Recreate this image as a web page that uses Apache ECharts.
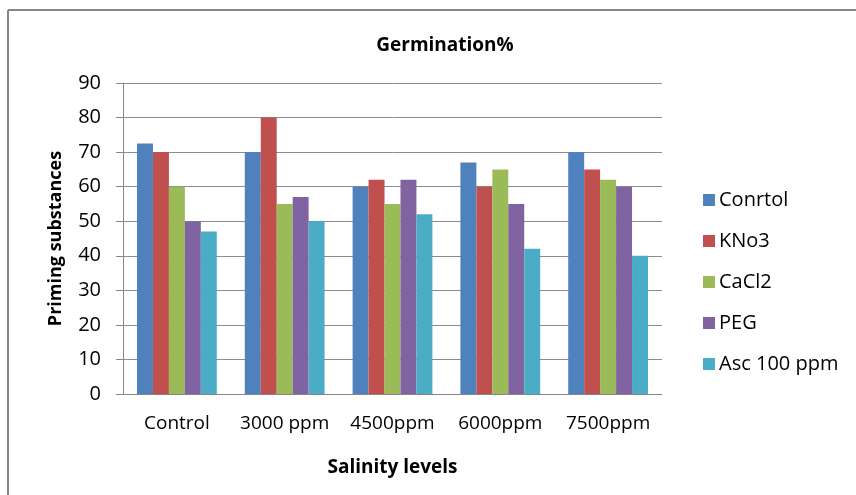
<!DOCTYPE html>
<html>
<head>
<meta charset="utf-8">
<script src="https://cdn.jsdelivr.net/npm/echarts@6/dist/echarts.min.js"></script>
<style>
  html, body { margin: 0; padding: 0; background: #fff; }
  #chart { width: 856px; height: 495px; }
</style>
</head>
<body>
<div id="chart"></div>
<script>
const categories = ['Control', '3000 ppm', '4500ppm', '6000ppm', '7500ppm']
const seriesNames = ['Conrtol', 'KNo3', 'CaCl2', 'PEG', 'Asc 100 ppm']
const conrtol = [72.5, 70, 60, 67, 70]
const kno3 = [70, 80, 62, 60, 65]
const cacl2 = [60, 55, 55, 65, 62]
const peg = [50, 57, 62, 55, 60]
const asc100 = [47, 50, 52, 42, 40]
const colors = ['#4f81bd', '#c0504d', '#9bbb59', '#8064a2', '#4bacc6']

const allValues = [conrtol, kno3, cacl2, peg, asc100]
const font = '"Open Sans", "Noto Sans", sans-serif'

const chart = echarts.init(document.getElementById('chart'))

const option = {
  animation: false,
  textStyle: { fontFamily: font },
  title: {
    text: 'Germination%',
    left: 440,
    top: 31,
    textAlign: 'center',
    textStyle: { fontSize: 19, fontWeight: 'bold', color: '#000', fontFamily: font }
  },
  graphic: [
    { type: 'line', shape: { x1: 8, y1: 10, x2: 8, y2: 495 }, style: { stroke: '#868686', lineWidth: 2 } },
    { type: 'line', shape: { x1: 8, y1: 10, x2: 856, y2: 10 }, style: { stroke: '#868686', lineWidth: 2 } }
  ],
  legend: {
    orient: 'vertical',
    left: 698,
    top: 185,
    itemGap: 21,
    itemWidth: 12,
    itemHeight: 12,
    icon: 'rect',
    textStyle: { fontSize: 20, lineHeight: 20, color: '#000', fontFamily: font, padding: [0, 0, 0, -1] },
    data: seriesNames
  },
  grid: { left: 123, right: 194, top: 83, bottom: 101 },
  xAxis: {
    type: 'category',
    data: categories,
    name: 'Salinity levels',
    nameLocation: 'middle',
    nameGap: 64,
    nameTextStyle: { fontSize: 19, fontWeight: 'bold', color: '#000' },
    axisLine: { lineStyle: { color: '#868686' } },
    axisTick: { show: false },
    axisLabel: { fontSize: 19, color: '#000', margin: 20, interval: 0, hideOverlap: false }
  },
  yAxis: {
    type: 'value',
    min: 0,
    max: 90,
    interval: 10,
    name: 'Priming substances',
    nameLocation: 'middle',
    nameGap: 58,
    nameTextStyle: { fontSize: 18, fontWeight: 'bold', color: '#000' },
    axisLine: { show: true, lineStyle: { color: '#868686' } },
    axisTick: { show: true, length: 7, lineStyle: { color: '#868686' } },
    axisLabel: { fontSize: 20, color: '#000', margin: 22 },
    splitLine: { lineStyle: { color: '#8c8c8c', width: 1 } }
  },
  series: seriesNames.map((name, i) => ({
    name: name,
    type: 'bar',
    data: allValues[i],
    barGap: '0%',
    barCategoryGap: '26%',
    itemStyle: { color: colors[i] }
  }))
}

chart.setOption(option)
</script>
</body>
</html>
